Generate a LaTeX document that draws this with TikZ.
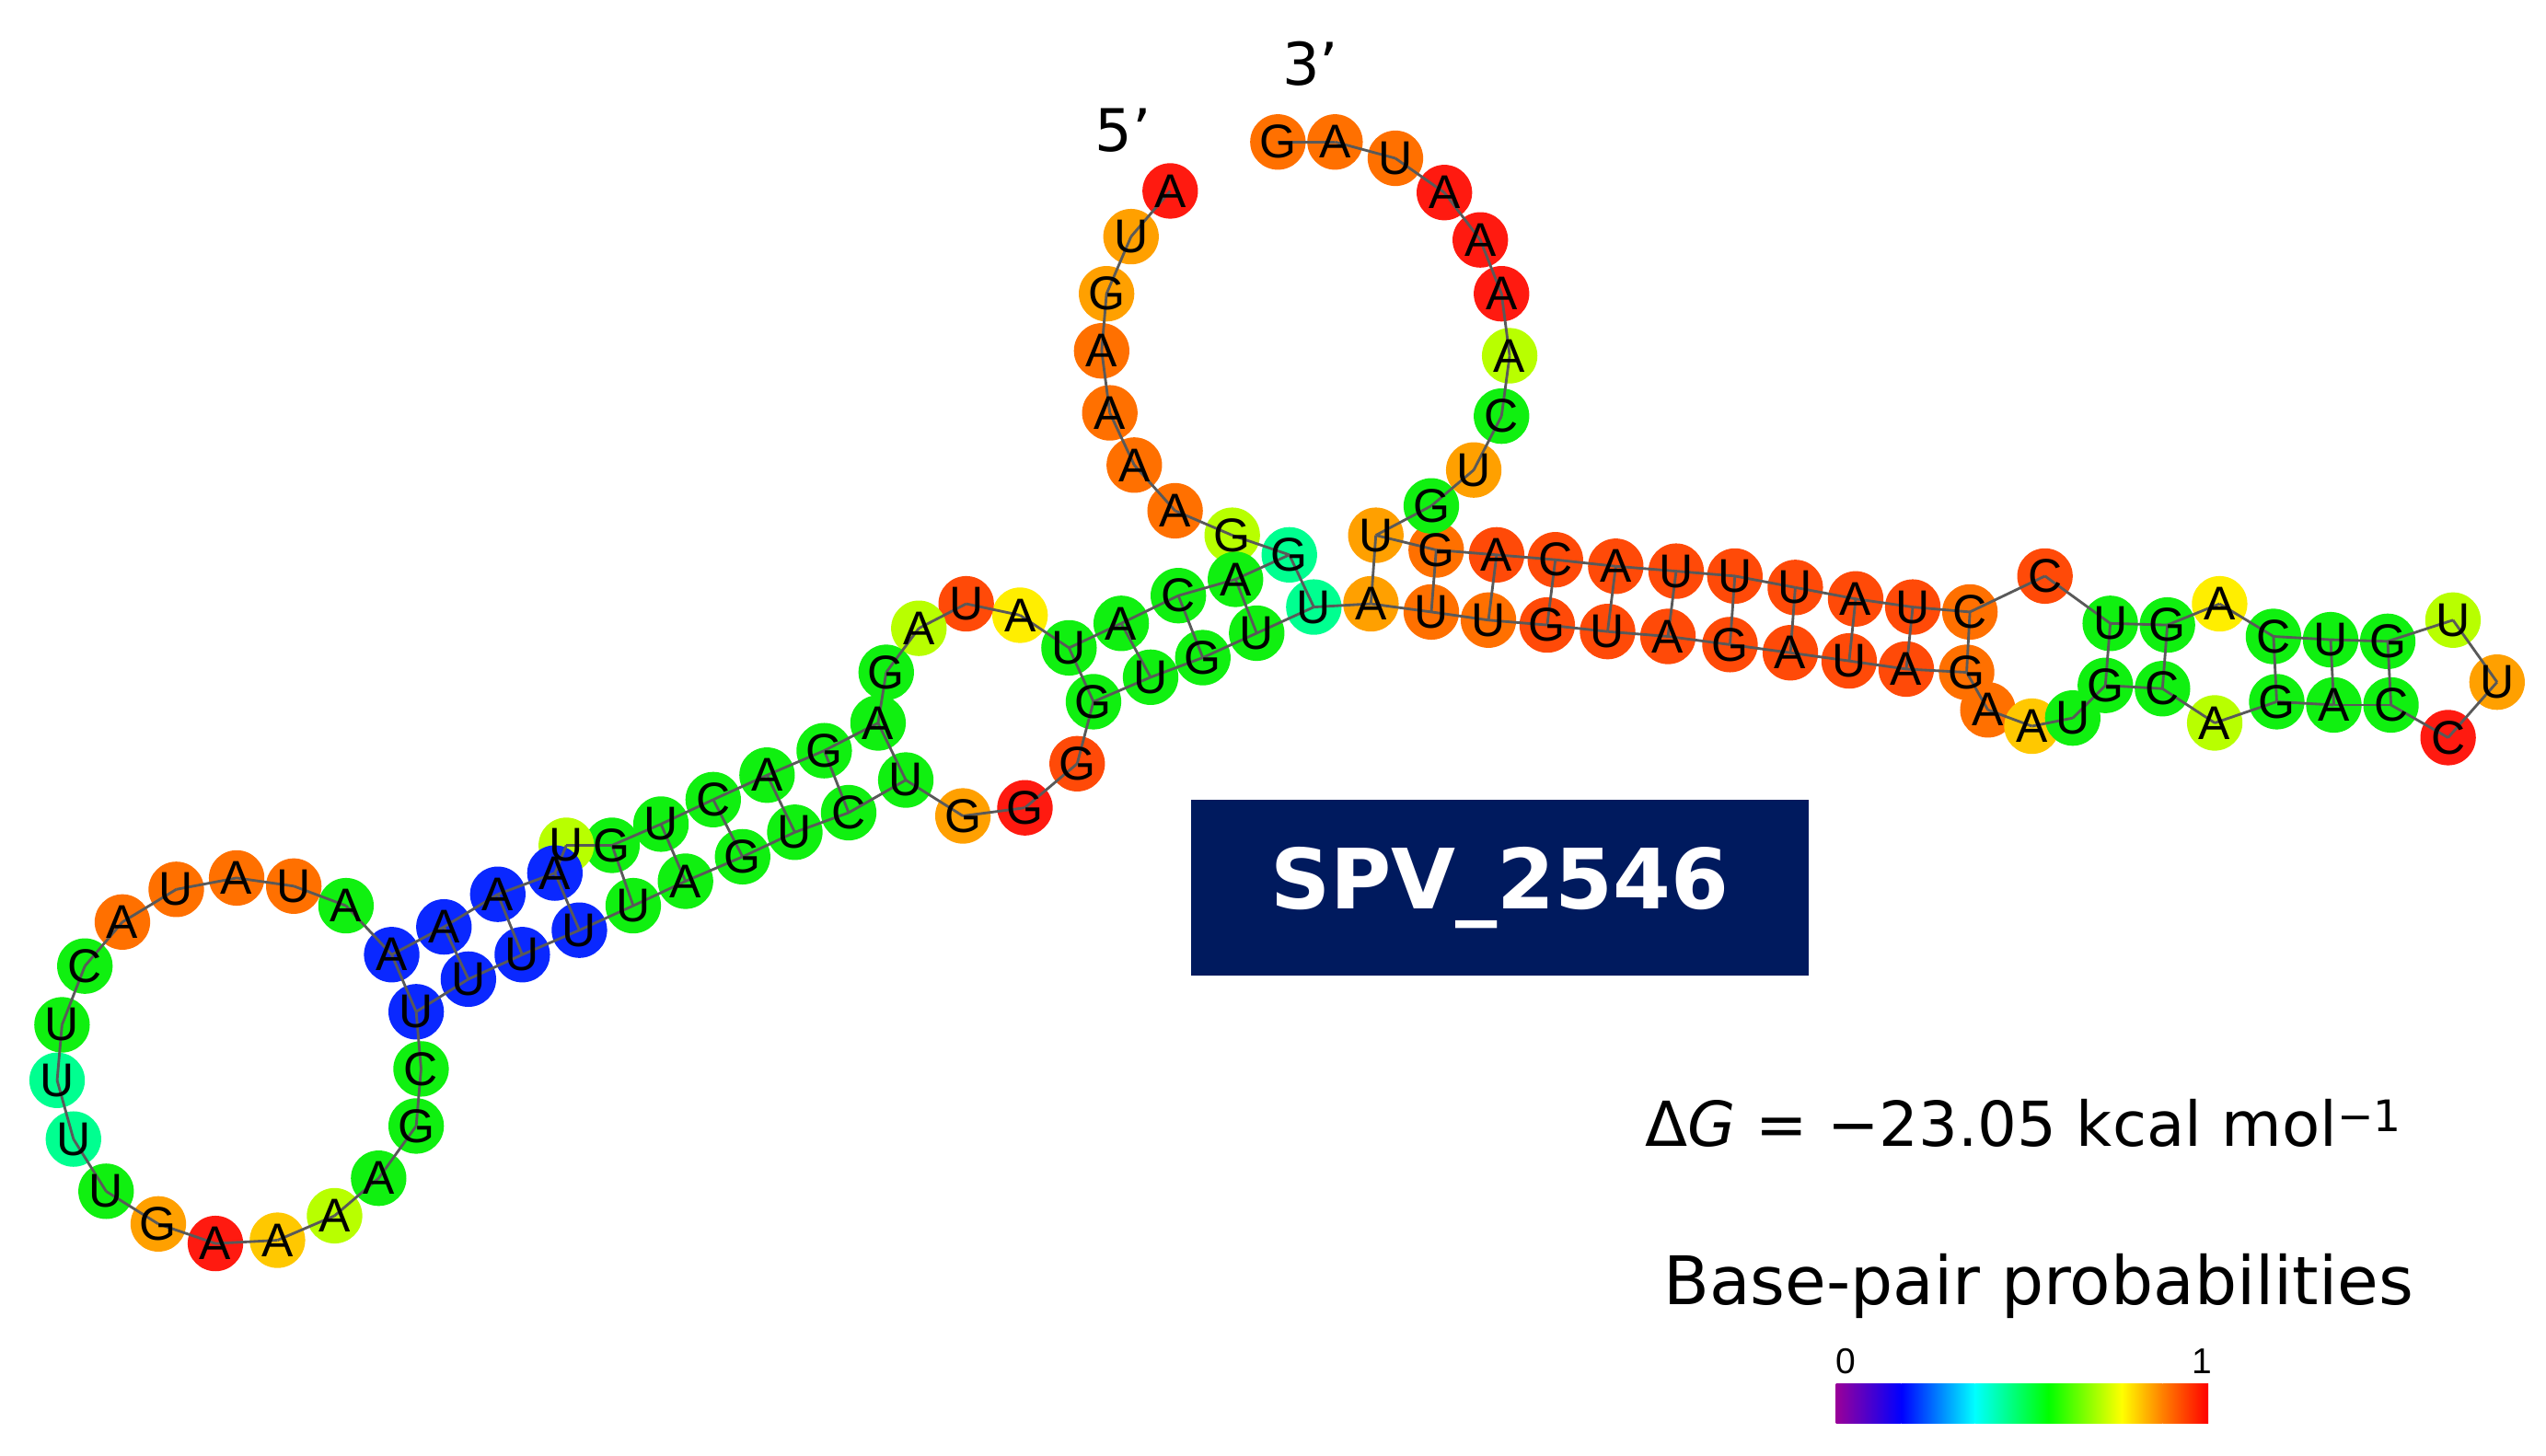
\documentclass[tikz,border=0pt]{standalone}
\usepackage{fontspec}
\setmainfont{DejaVu Sans}
\newfontfamily\nt{Liberation Sans}
\definecolor{cR}{HTML}{FF1A10}
\definecolor{cRO}{HTML}{FF4A08}
\definecolor{cOR}{HTML}{FF7000}
\definecolor{cLO}{HTML}{FFA000}
\definecolor{cYO}{HTML}{FFC800}
\definecolor{cYE}{HTML}{FFEE00}
\definecolor{cYG}{HTML}{B8FF00}
\definecolor{cGR}{HTML}{10F010}
\definecolor{cTE}{HTML}{00FF90}
\definecolor{cBL}{HTML}{0A28FF}
\definecolor{navy}{HTML}{001A5E}
\tikzset{nuc/.style={circle,inner sep=0pt,minimum size=34pt},
 let/.style={font=\nt\fontsize{29}{29}\selectfont,inner sep=0pt},
 bb/.style={draw=black!65,line width=1.6pt},
 lab/.style={font=\fontsize{36}{36}\selectfont,inner sep=0pt}}
\begin{document}
\begin{tikzpicture}[x=1pt,y=-1pt]
\useasboundingbox[fill=white] (0,0) rectangle (1560,892);
\def\nucs{1/717/117/A/cR,2/693/145/U/cLO,3/678/180/G/cLO,4/675/215/A/cOR,5/680/253/A/cOR,6/695/285/A/cOR,7/720/313/A/cOR,8/755/328/G/cYG,9/790/340/G/cTE,10/757/355/A/cGR,11/722/365/C/cGR,12/687/382/A/cGR,13/655/397/U/cGR,14/625/377/A/cYE,15/592/370/U/cRO,16/563/385/A/cYG,17/543/412/G/cGR,18/538/443/A/cGR,19/505/460/G/cGR,20/470/475/A/cGR,21/437/490/C/cGR,22/405/505/U/cGR,23/375/518/G/cGR,24/347/518/U/cYG,25/340/535/A/cBL,26/305/548/A/cBL,27/272/568/A/cBL,28/240/585/A/cBL,29/212/555/A/cGR,30/180/543/U/cOR,31/145/538/A/cOR,32/108/545/U/cOR,33/75/565/A/cOR,34/52/592/C/cGR,35/38/628/U/cGR,36/35/662/U/cTE,37/45/698/U/cTE,38/65/730/U/cGR,39/97/750/G/cLO,40/132/762/A/cR,41/170/760/A/cYO,42/205/745/A/cYG,43/232/722/A/cGR,44/255/690/G/cGR,45/258/655/C/cGR,46/255/620/U/cBL,47/287/600/U/cBL,48/320/585/U/cBL,49/355/570/U/cBL,50/388/555/U/cGR,51/420/540/A/cGR,52/455/525/G/cGR,53/487/510/U/cGR,54/520/498/C/cGR,55/555/478/U/cGR,56/590/500/G/cLO,57/628/495/G/cR,58/660/468/G/cRO,59/670/430/G/cGR,60/705/415/U/cGR,61/737/403/G/cGR,62/770/388/U/cGR,63/805/372/U/cTE,64/840/370/A/cLO,65/877/375/U/cOR,66/912/380/U/cOR,67/948/383/G/cRO,68/985/387/U/cRO,69/1022/390/A/cRO,70/1060/395/G/cRO,71/1097/400/A/cRO,72/1133/405/U/cRO,73/1168/410/A/cRO,74/1205/412/G/cOR,75/1218/435/A/cOR,76/1245/445/A/cYO,77/1270/440/U/cGR,78/1290/420/G/cGR,79/1325/422/C/cGR,80/1357/443/A/cYG,81/1395/430/G/cGR,82/1430/432/A/cGR,83/1465/432/C/cGR,84/1500/452/C/cR,85/1530/418/U/cLO,86/1503/380/U/cYG,87/1463/393/G/cGR,88/1428/392/U/cGR,89/1393/390/C/cGR,90/1360/370/A/cYE,91/1328/383/G/cGR,92/1293/382/U/cGR,93/1253/353/C/cRO,94/1207/375/C/cOR,95/1172/372/U/cRO,96/1137/367/A/cRO,97/1100/360/U/cRO,98/1063/353/U/cRO,99/1027/350/U/cRO,100/990/347/A/cRO,101/953/343/C/cRO,102/917/340/A/cRO,103/880/337/G/cOR,104/843/328/U/cLO,105/877/310/G/cGR,106/903/288/U/cLO,107/920/255/C/cGR,108/925/218/A/cYG,109/920/180/A/cR,110/907/147/A/cR,111/885/118/A/cR,112/855/97/U/cOR,113/818/87/A/cOR,114/783/87/G/cOR}
\foreach \i/\x/\y/\l/\c in \nucs {\node[nuc,fill=\c] (n\i) at (\x,\y) {};}
\foreach \i in {2,...,114} {\pgfmathtruncatemacro\j{\i-1}\draw[bb] (n\j.center)--(n\i.center);}
\foreach \a/\b in {9/63,10/62,11/61,12/60,13/59,18/55,19/54,20/53,21/52,22/51,23/50,25/49,26/48,27/47,28/46,64/104,65/103,66/102,67/101,68/100,69/99,70/98,71/97,72/96,73/95,74/94,78/92,79/91,81/89,82/88,83/87}
 {\draw[bb] (n\a.center)--(n\b.center);}
\foreach \i/\x/\y/\l/\c in \nucs {\node[let] (l\i) at (n\i) {\l};}
\node[lab] (five) at (688,80) {5’};
\node[lab] (three) at (803,39) {3’};
\node[fill=navy,minimum width=378pt,minimum height=108pt,inner sep=0pt,text=white,font=\bfseries\fontsize{51}{51}\selectfont] (box) at (919,544) {SPV\_2546};
\node[font=\fontsize{38}{38}\selectfont,inner sep=0pt] (dg) at (1240,688) {Δ\textit{G} = −23.05 kcal mol\textsuperscript{−1}};
\node[font=\fontsize{41}{41}\selectfont,inner sep=0pt] (bp) at (1249,788) {Base-pair probabilities};
\shade[left color=violet!80!magenta,right color=blue] (1125,848) rectangle (1165,872);
\shade[left color=blue,right color=cyan] (1165,848) rectangle (1210,872);
\shade[left color=cyan,right color=green] (1210,848) rectangle (1255,872);
\shade[left color=green,right color=yellow] (1255,848) rectangle (1300,872);
\shade[left color=yellow,right color=orange] (1300,848) rectangle (1325,872);
\shade[left color=orange,right color=red] (1325,848) rectangle (1353,872);
\node[font=\nt\fontsize{22}{22}\selectfont,inner sep=0pt] (z) at (1131,834) {0};
\node[font=\nt\fontsize{22}{22}\selectfont,inner sep=0pt] (o) at (1349,834) {1};
\end{tikzpicture}
\end{document}
